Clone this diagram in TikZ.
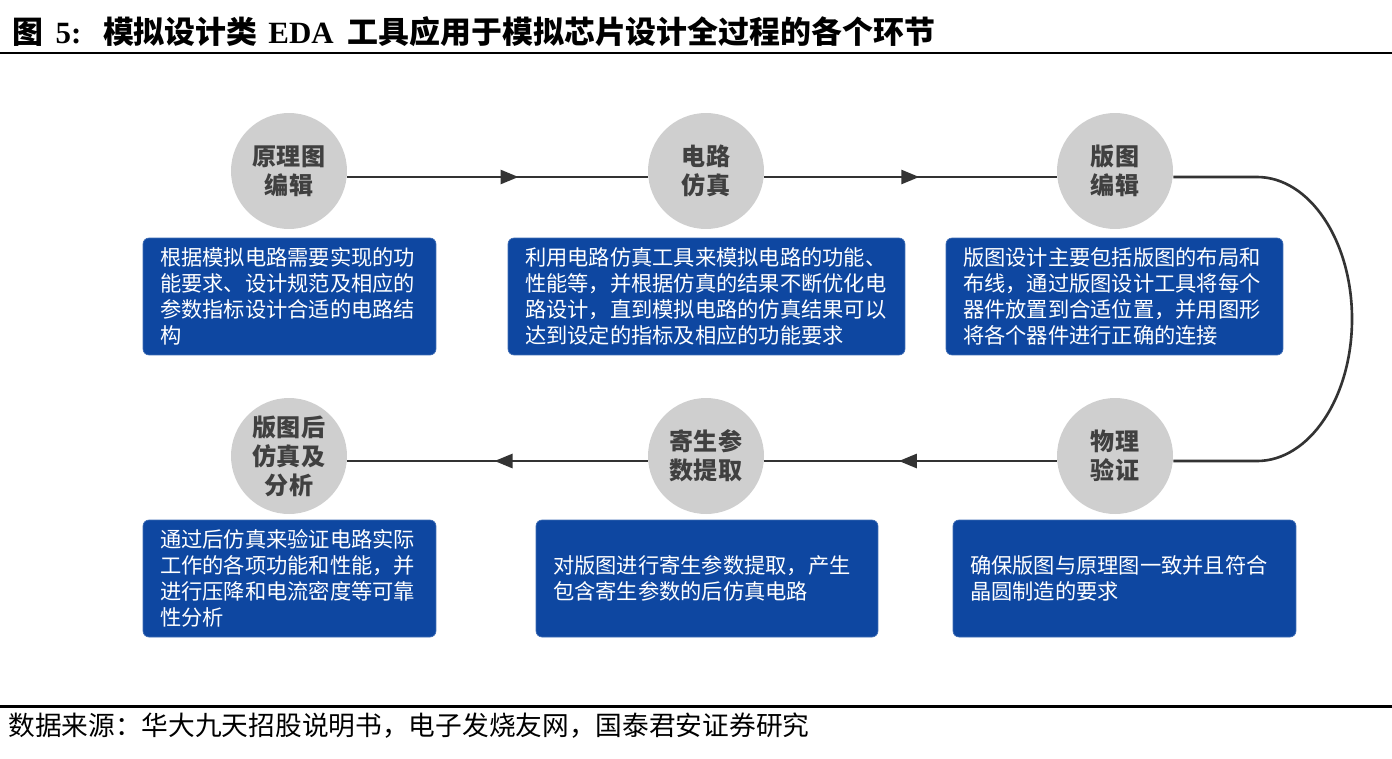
\documentclass[tikz,border=0pt]{standalone}
\usepackage{fontspec}
\setmainfont{Noto Sans CJK SC}
\newfontfamily\lserif{Liberation Serif}
\usepackage{tikz}
\usetikzlibrary{arrows.meta,decorations.markings}
\definecolor{StepGray}{RGB}{207,207,207}
\definecolor{StepText}{RGB}{64,64,64}
\definecolor{NoteBlue}{RGB}{14,71,161}
\definecolor{FlowGray}{RGB}{51,51,51}
\tikzset{
  stepcirc/.style={circle,fill=StepGray,minimum size=2.32cm,inner sep=0pt,
    font=\fontsize{13.7}{16.5}\selectfont\bfseries,text=StepText,align=center},
  notebox/.style={draw=NoteBlue!80!white,line width=0.4pt,fill=NoteBlue,
    rounded corners=0.12cm,text=white,font=\fontsize{12.1}{14.8}\selectfont,
    align=left,inner xsep=0.34cm,inner ysep=0pt,minimum height=2.34cm,text width=#1},
  flow/.style={color=FlowGray,line width=1.5pt},
  flowtip/.tip={Triangle[length=0.36cm,width=0.28cm]},
  midarrow/.style={postaction={decorate,decoration={markings,
    mark=at position #1 with {\arrow{flowtip}}}}}
}

\begin{document}
\begin{tikzpicture}[x=0.02cm,y=-0.02cm]
  \useasboundingbox (0,0) rectangle (1392,758);
  % Title and rules
  \node[anchor=west,inner sep=0pt,font=\fontsize{17.6}{20}\selectfont\bfseries] (title)
    at (12,32) {图\hspace{0.4em}{\lserif 5:}\hspace{0.7em}模拟设计类\hspace{0.35em}{\lserif EDA}\hspace{0.45em}工具应用于模拟芯片设计全过程的各个环节};
  \draw[line width=1.7pt] (0,53) -- (1392,53);
  \draw[line width=1.7pt] (0,706) -- (1392,706);
  \node[anchor=west,inner sep=0pt,font=\fontsize{15.2}{18}\selectfont] (source)
    at (8,726) {数据来源：华大九天招股说明书，电子发烧友网，国泰君安证券研究};
  % Steps, top row
  \node[stepcirc] (schem) at (289,171) {原理图\\编辑};
  \node[stepcirc] (circsim) at (706,171) {电路\\仿真};
  \node[stepcirc] (layout) at (1115,171) {版图\\编辑};
  % Steps, bottom row
  \node[stepcirc] (postsim) at (289,456) {版图后\\仿真及\\分析};
  \node[stepcirc] (extract) at (706,456) {寄生参\\数提取};
  \node[stepcirc] (verify) at (1115,456) {物理\\验证};
  % Notes
  \node[notebox=5.18cm] (schemnote) at (289.5,296.5)
    {根据模拟电路需要实现的功\\能要求、设计规范及相应的\\参数指标设计合适的电路结\\构};
  \node[notebox=7.26cm] (circsimnote) at (706.5,296.5)
    {利用电路仿真工具来模拟电路的功能、\\性能等，并根据仿真的结果不断优化电\\路设计，直到模拟电路的仿真结果可以\\达到设定的指标及相应的功能要求};
  \node[notebox=6.06cm] (layoutnote) at (1114.5,296.5)
    {版图设计主要包括版图的布局和\\布线，通过版图设计工具将每个\\器件放置到合适位置，并用图形\\将各个器件进行正确的连接};
  \node[notebox=5.18cm] (postsimnote) at (289.5,578.5)
    {通过后仿真来验证电路实际\\工作的各项功能和性能，并\\进行压降和电流密度等可靠\\性分析};
  \node[notebox=6.16cm] (extractnote) at (707,578.5)
    {对版图进行寄生参数提取，产生\\包含寄生参数的后仿真电路};
  \node[notebox=6.18cm] (verifynote) at (1124.5,578.5)
    {确保版图与原理图一致并且符合\\晶圆制造的要求};
  % Flow
  \coordinate (bendtop) at (1257,177);
  \coordinate (bendbot) at (1257,461);
  \draw[flow,midarrow=0.57] ([yshift=-0.12cm]schem.east) -- ([yshift=-0.12cm]circsim.west);
  \draw[flow,midarrow=0.53] ([yshift=-0.12cm]circsim.east) -- ([yshift=-0.12cm]layout.west);
  \draw[flow] ([yshift=-0.12cm]layout.east) -- (bendtop)
    .. controls (1309.4,177) and (1352,240.6) .. (1352,319)
    .. controls (1352,397.4) and (1309.4,461) .. (bendbot)
    -- ([yshift=-0.1cm]verify.east);
  \draw[flow,midarrow=0.54] ([yshift=-0.1cm]verify.west) -- ([yshift=-0.1cm]extract.east);
  \draw[flow,midarrow=0.51] ([yshift=-0.1cm]extract.west) -- ([yshift=-0.1cm]postsim.east);
\end{tikzpicture}
\end{document}
